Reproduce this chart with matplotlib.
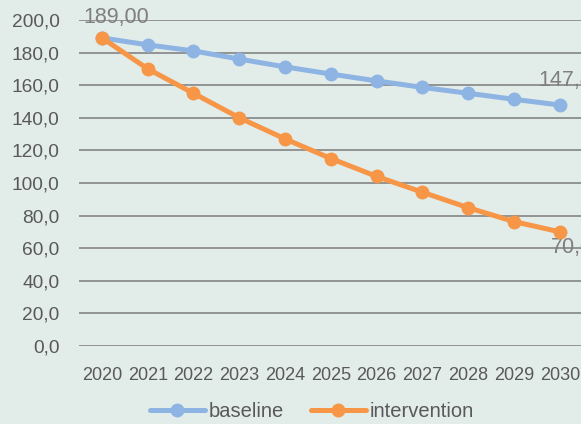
import matplotlib.pyplot as plt

plt.rcParams['font.family'] = ['Liberation Sans', 'DejaVu Sans']

years = ['2020', '2021', '2022', '2023', '2024', '2025',
         '2026', '2027', '2028', '2029', '2030']
baseline = [189.0, 184.7, 181.0, 176.0, 171.2, 166.8, 162.6, 158.6, 155.0, 151.3, 147.8]
intervention = [189.0, 170.0, 155.0, 140.0, 127.0, 115.0, 104.0, 94.3, 84.8, 76.3, 70.0]

bg = '#e2ece9'
grid_c = '#8c8c8c'
text_c = '#595959'
label_c = '#7f7f7f'

fig = plt.figure(figsize=(5.81, 4.24), dpi=100, facecolor=bg)
ax = fig.add_axes([0.136, 0.184, 0.867, 0.769])
ax.set_facecolor(bg)

x = list(range(len(years)))
ax.plot(x, baseline, color='#8eb4e3', lw=3.6, marker='o', ms=9,
        solid_capstyle='round', label='baseline', zorder=3)
ax.plot(x, intervention, color='#f79646', lw=3.6, marker='o', ms=9,
        solid_capstyle='round', label='intervention', zorder=4)

ax.set_xlim(-0.5, len(years) - 0.5)
ax.set_ylim(0, 200)
ax.set_yticks(range(0, 201, 20))
ax.set_yticklabels([f'{v},0' for v in range(0, 201, 20)])
ax.set_xticks(x)
ax.set_xticklabels(years)
ax.grid(axis='y', color=grid_c, lw=1.3)
ax.set_axisbelow(True)
for s in ax.spines.values():
    s.set_visible(False)
ax.tick_params(axis='y', length=0, pad=14, labelsize=13.8, colors=text_c)
ax.tick_params(axis='x', length=0, pad=15, labelsize=13, colors=text_c)

# data labels on first and last points
def fmt(v):
    return f'{v:.2f}'.replace('.', ',')

ax.annotate(fmt(intervention[0]), (0, intervention[0]), xytext=(10, 14.5),
            textcoords='offset points', ha='center', va='center',
            fontsize=15.5, color=label_c, annotation_clip=False)
ax.annotate(fmt(baseline[-1]), (x[-1], baseline[-1]), xytext=(8, 17.5),
            textcoords='offset points', ha='center', va='center',
            fontsize=15.5, color=label_c, annotation_clip=False)
ax.annotate(fmt(intervention[-1]), (x[-1], intervention[-1]), xytext=(13, -11.5),
            textcoords='offset points', ha='center', va='center',
            fontsize=15.5, color=label_c, annotation_clip=False)

fig.legend(loc='center', bbox_to_anchor=(0.537, 0.03), ncol=2, frameon=False,
           fontsize=14.5, handlelength=2.75, columnspacing=1.3, handletextpad=0.2,
           labelcolor=text_c)

fig.savefig('out.png', dpi=100, facecolor=bg)
